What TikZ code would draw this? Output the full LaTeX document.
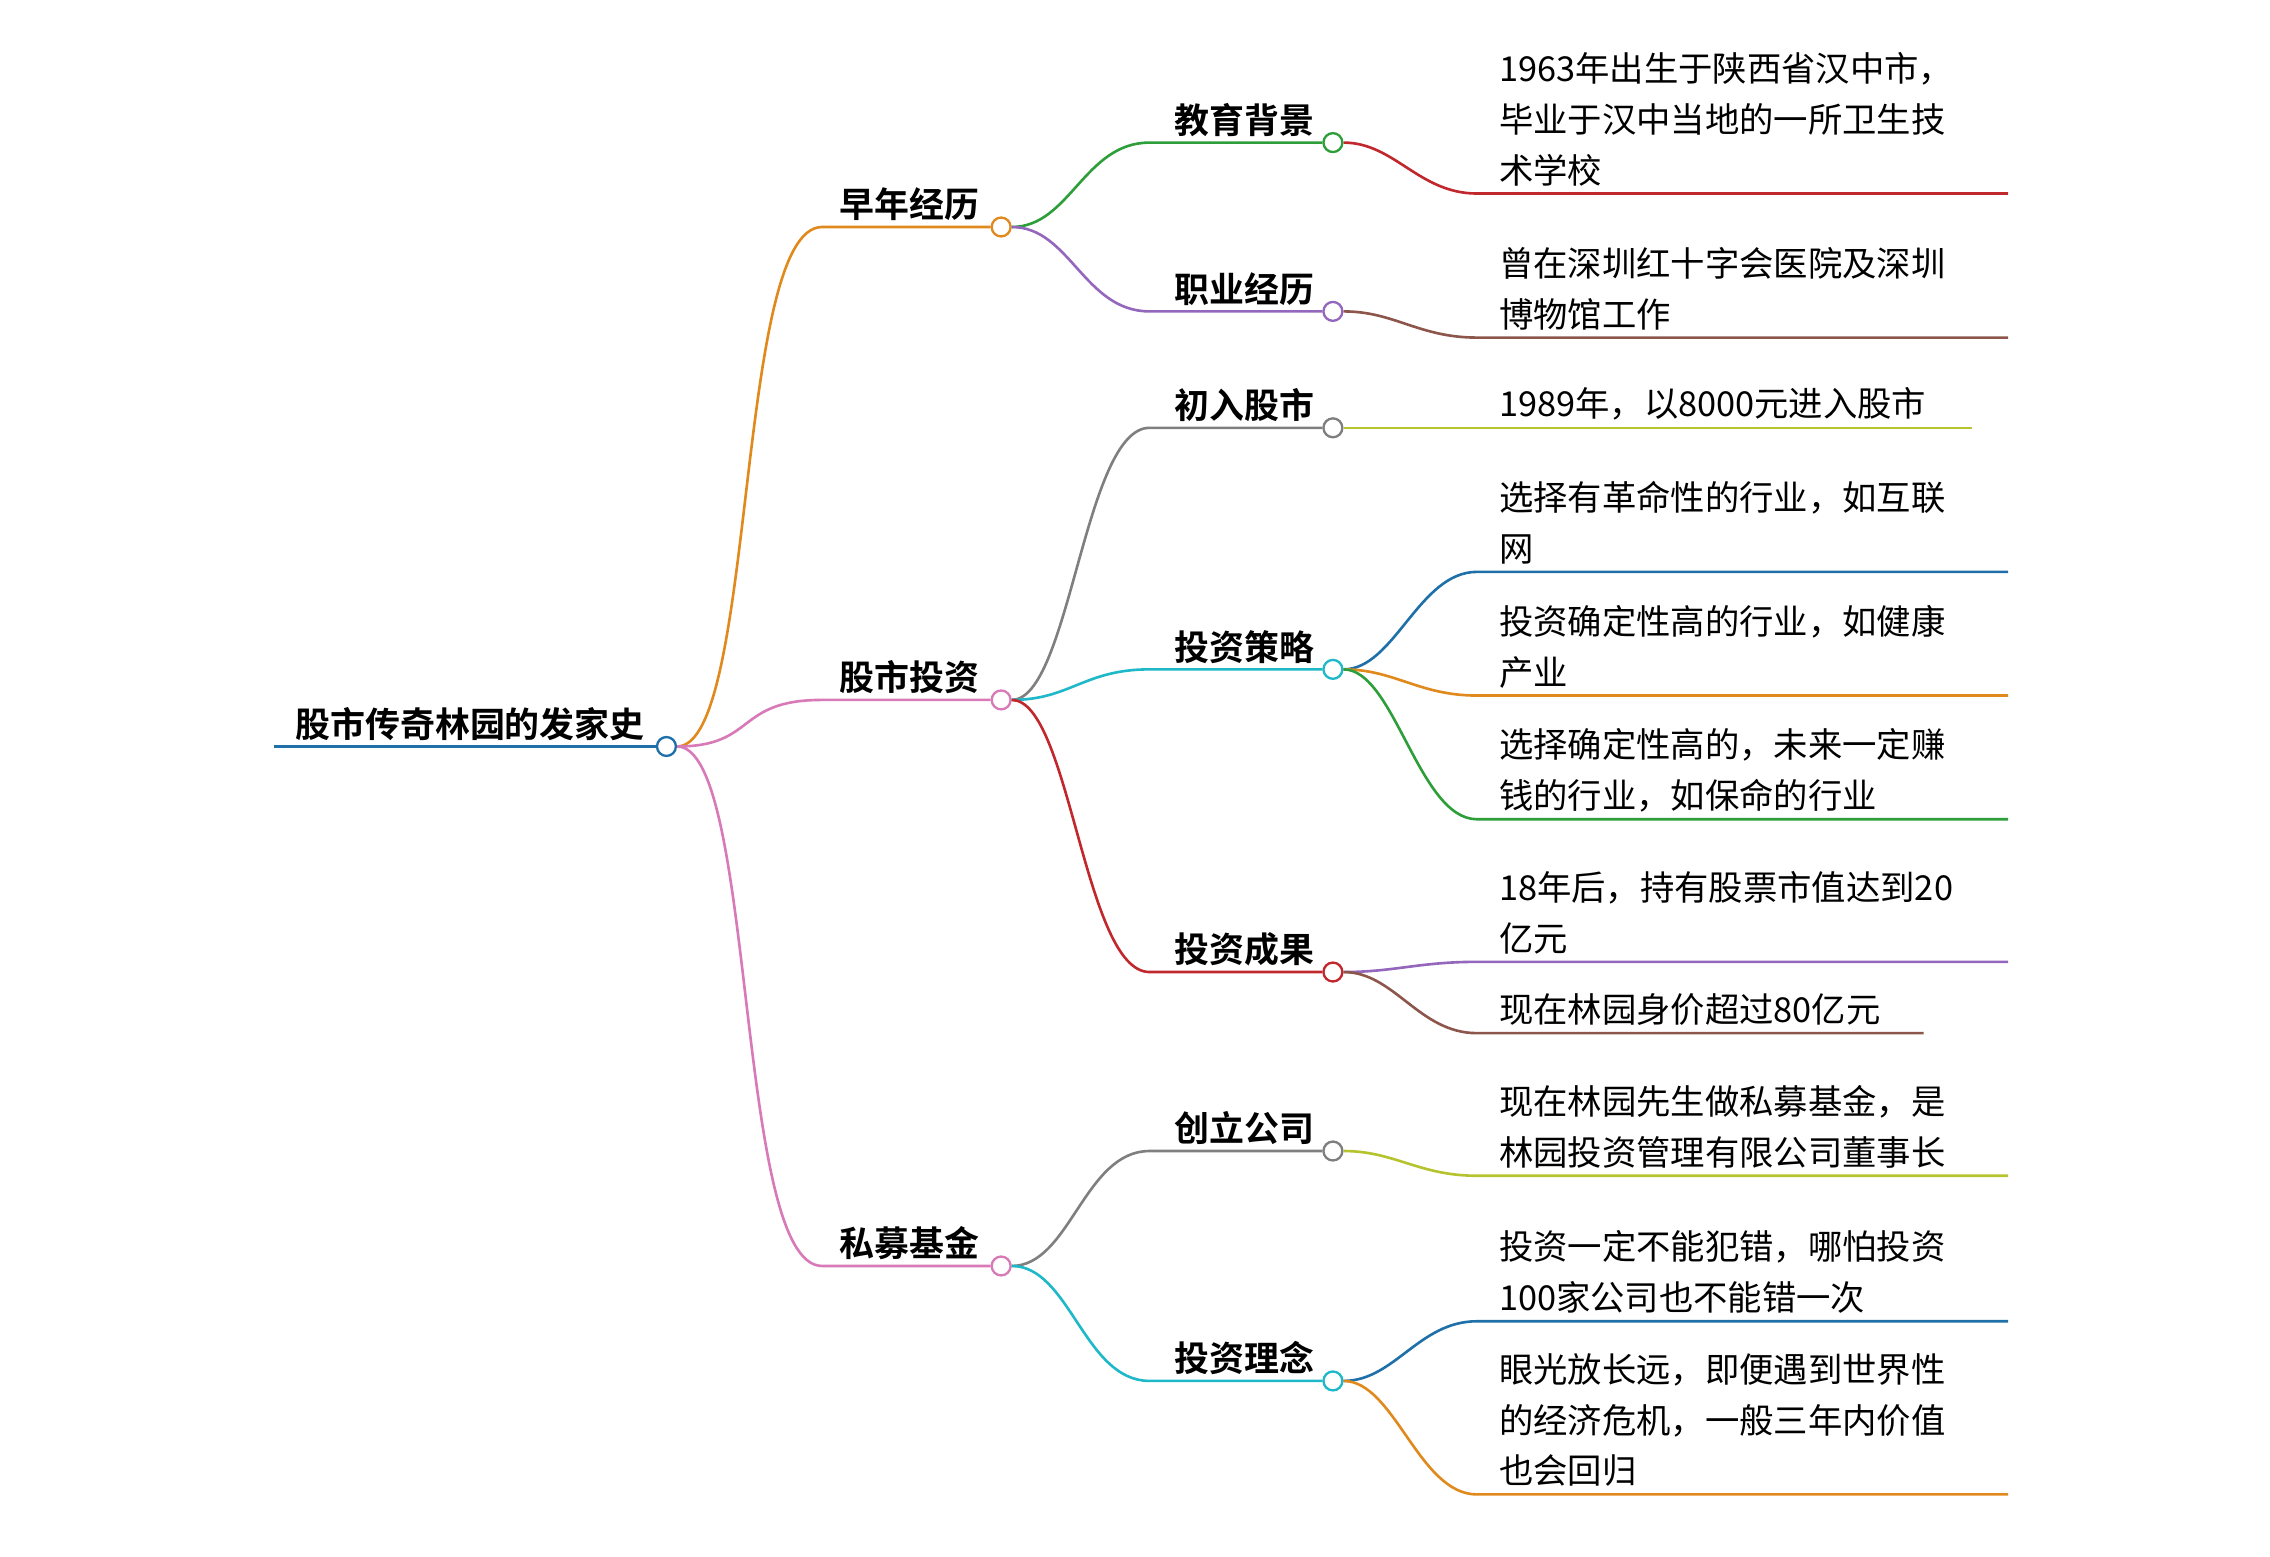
\documentclass[tikz,border=0pt]{standalone}
\usepackage{fontspec}
\setmainfont{Noto Sans CJK SC}
\newfontfamily\boldcjk{Noto Sans CJK SC Bold}
\usetikzlibrary{positioning}
\definecolor{cRoot}{HTML}{1F6FA8}
\definecolor{cOrange}{HTML}{E08A1E}
\definecolor{cPink}{HTML}{D97AB8}
\definecolor{cGreen}{HTML}{2E9E3A}
\definecolor{cPurple}{HTML}{9467BD}
\definecolor{cGray}{HTML}{7F7F7F}
\definecolor{cCyan}{HTML}{1FB8C8}
\definecolor{cRed}{HTML}{C0282D}
\definecolor{cBrown}{HTML}{8C564B}
\definecolor{cOlive}{HTML}{B5C42E}
\tikzset{
  dot/.style={circle,draw=#1,fill=white,line width=1.6pt,inner sep=0pt,minimum size=13pt},
  topic/.style={font=\boldcjk\fontsize{24}{28}\selectfont,anchor=south,inner sep=2pt},
  leaf/.style={font=\fontsize{23.6}{35}\selectfont,align=left,anchor=south west,inner sep=2pt},
  link/.style={line width=1.8pt,#1},
}
\begin{document}
\begin{tikzpicture}[x=1pt,y=-1pt]
    \useasboundingbox (0,0) rectangle (1560,1070);
    % root
    \node[topic] (root) at (323,511) {股市传奇林园的发家史};
    \draw[link=cRoot] (188,513) -- (458,513);
    \node[dot=cRoot] (r) at (458,513) {};
    % level one
    \node[topic] (a) at (625,154) {早年经历};
    \node[topic] (b) at (625,479) {股市投资};
    \node[topic] (c) at (625,868) {私募基金};
    \node[dot=cOrange] (ad) at (688,156) {};
    \node[dot=cPink] (bd) at (688,481) {};
    \node[dot=cPink] (cd) at (688,870) {};
    \foreach \d/\y/\col in {ad/156/cOrange, bd/481/cPink, cd/870/cPink}{
      \draw[link=\col] (r.east) .. controls (520,513) and (505,\y) .. (565,\y) -- (\d);
    }
    % level two
    \node[topic] (a1) at (855,96) {教育背景};
    \node[topic] (a2) at (855,212) {职业经历};
    \node[topic] (b1) at (855,292) {初入股市};
    \node[topic] (b2) at (855,458) {投资策略};
    \node[topic] (b3) at (855,666) {投资成果};
    \node[topic] (c1) at (855,789) {创立公司};
    \node[topic] (c2) at (855,947) {投资理念};
    \foreach \p/\n/\y/\col in {ad/a1/98/cGreen, ad/a2/214/cPurple, bd/b1/294/cGray,
        bd/b2/460/cCyan, bd/b3/668/cRed, cd/c1/791/cGray, cd/c2/949/cCyan}{
      \node[dot=\col] (\n d) at (916,\y) {};
      \draw[link=\col] (\p.east) .. controls +(40,0) and (745,\y) .. (790,\y) -- (\n d);
    }
    % leaves
    \node[leaf] (l1) at (1028,130) {1963年出生于陕西省汉中市，\\毕业于汉中当地的一所卫生技\\术学校};
    \node[leaf] (l2) at (1028,229) {曾在深圳红十字会医院及深圳\\博物馆工作};
    \node[leaf] (l3) at (1028,291) {1989年，以8000元进入股市};
    \node[leaf] (l4) at (1028,390) {选择有革命性的行业，如互联\\网};
    \node[leaf] (l5) at (1028,475) {投资确定性高的行业，如健康\\产业};
    \node[leaf] (l6) at (1028,560) {选择确定性高的，未来一定赚\\钱的行业，如保命的行业};
    \node[leaf] (l7) at (1028,658) {18年后，持有股票市值达到20\\亿元};
    \node[leaf] (l8) at (1028,707) {现在林园身价超过80亿元};
    \node[leaf] (l9) at (1028,805) {现在林园先生做私募基金，是\\林园投资管理有限公司董事长};
    \node[leaf] (l10) at (1028,905) {投资一定不能犯错，哪怕投资\\100家公司也不能错一次};
    \node[leaf] (l11) at (1028,1024) {眼光放长远，即便遇到世界性\\的经济危机，一般三年内价值\\也会回归};
    \foreach \p/\y/\e/\col in {a1d/133/1380/cRed, a2d/232/1380/cBrown, b1d/294/1355/cOlive,
        b2d/393/1380/cRoot, b2d/478/1380/cOrange, b2d/563/1380/cGreen,
        b3d/661/1380/cPurple, b3d/710/1322/cBrown, c1d/808/1380/cOlive,
        c2d/908/1380/cRoot, c2d/1027/1380/cOrange}{
      \coordinate (e) at (\e,\y);
      \draw[link=\col] (\p.east) .. controls +(35,0) and (975,\y) .. (1015,\y) -- (e);
    }
\end{tikzpicture}
\end{document}
